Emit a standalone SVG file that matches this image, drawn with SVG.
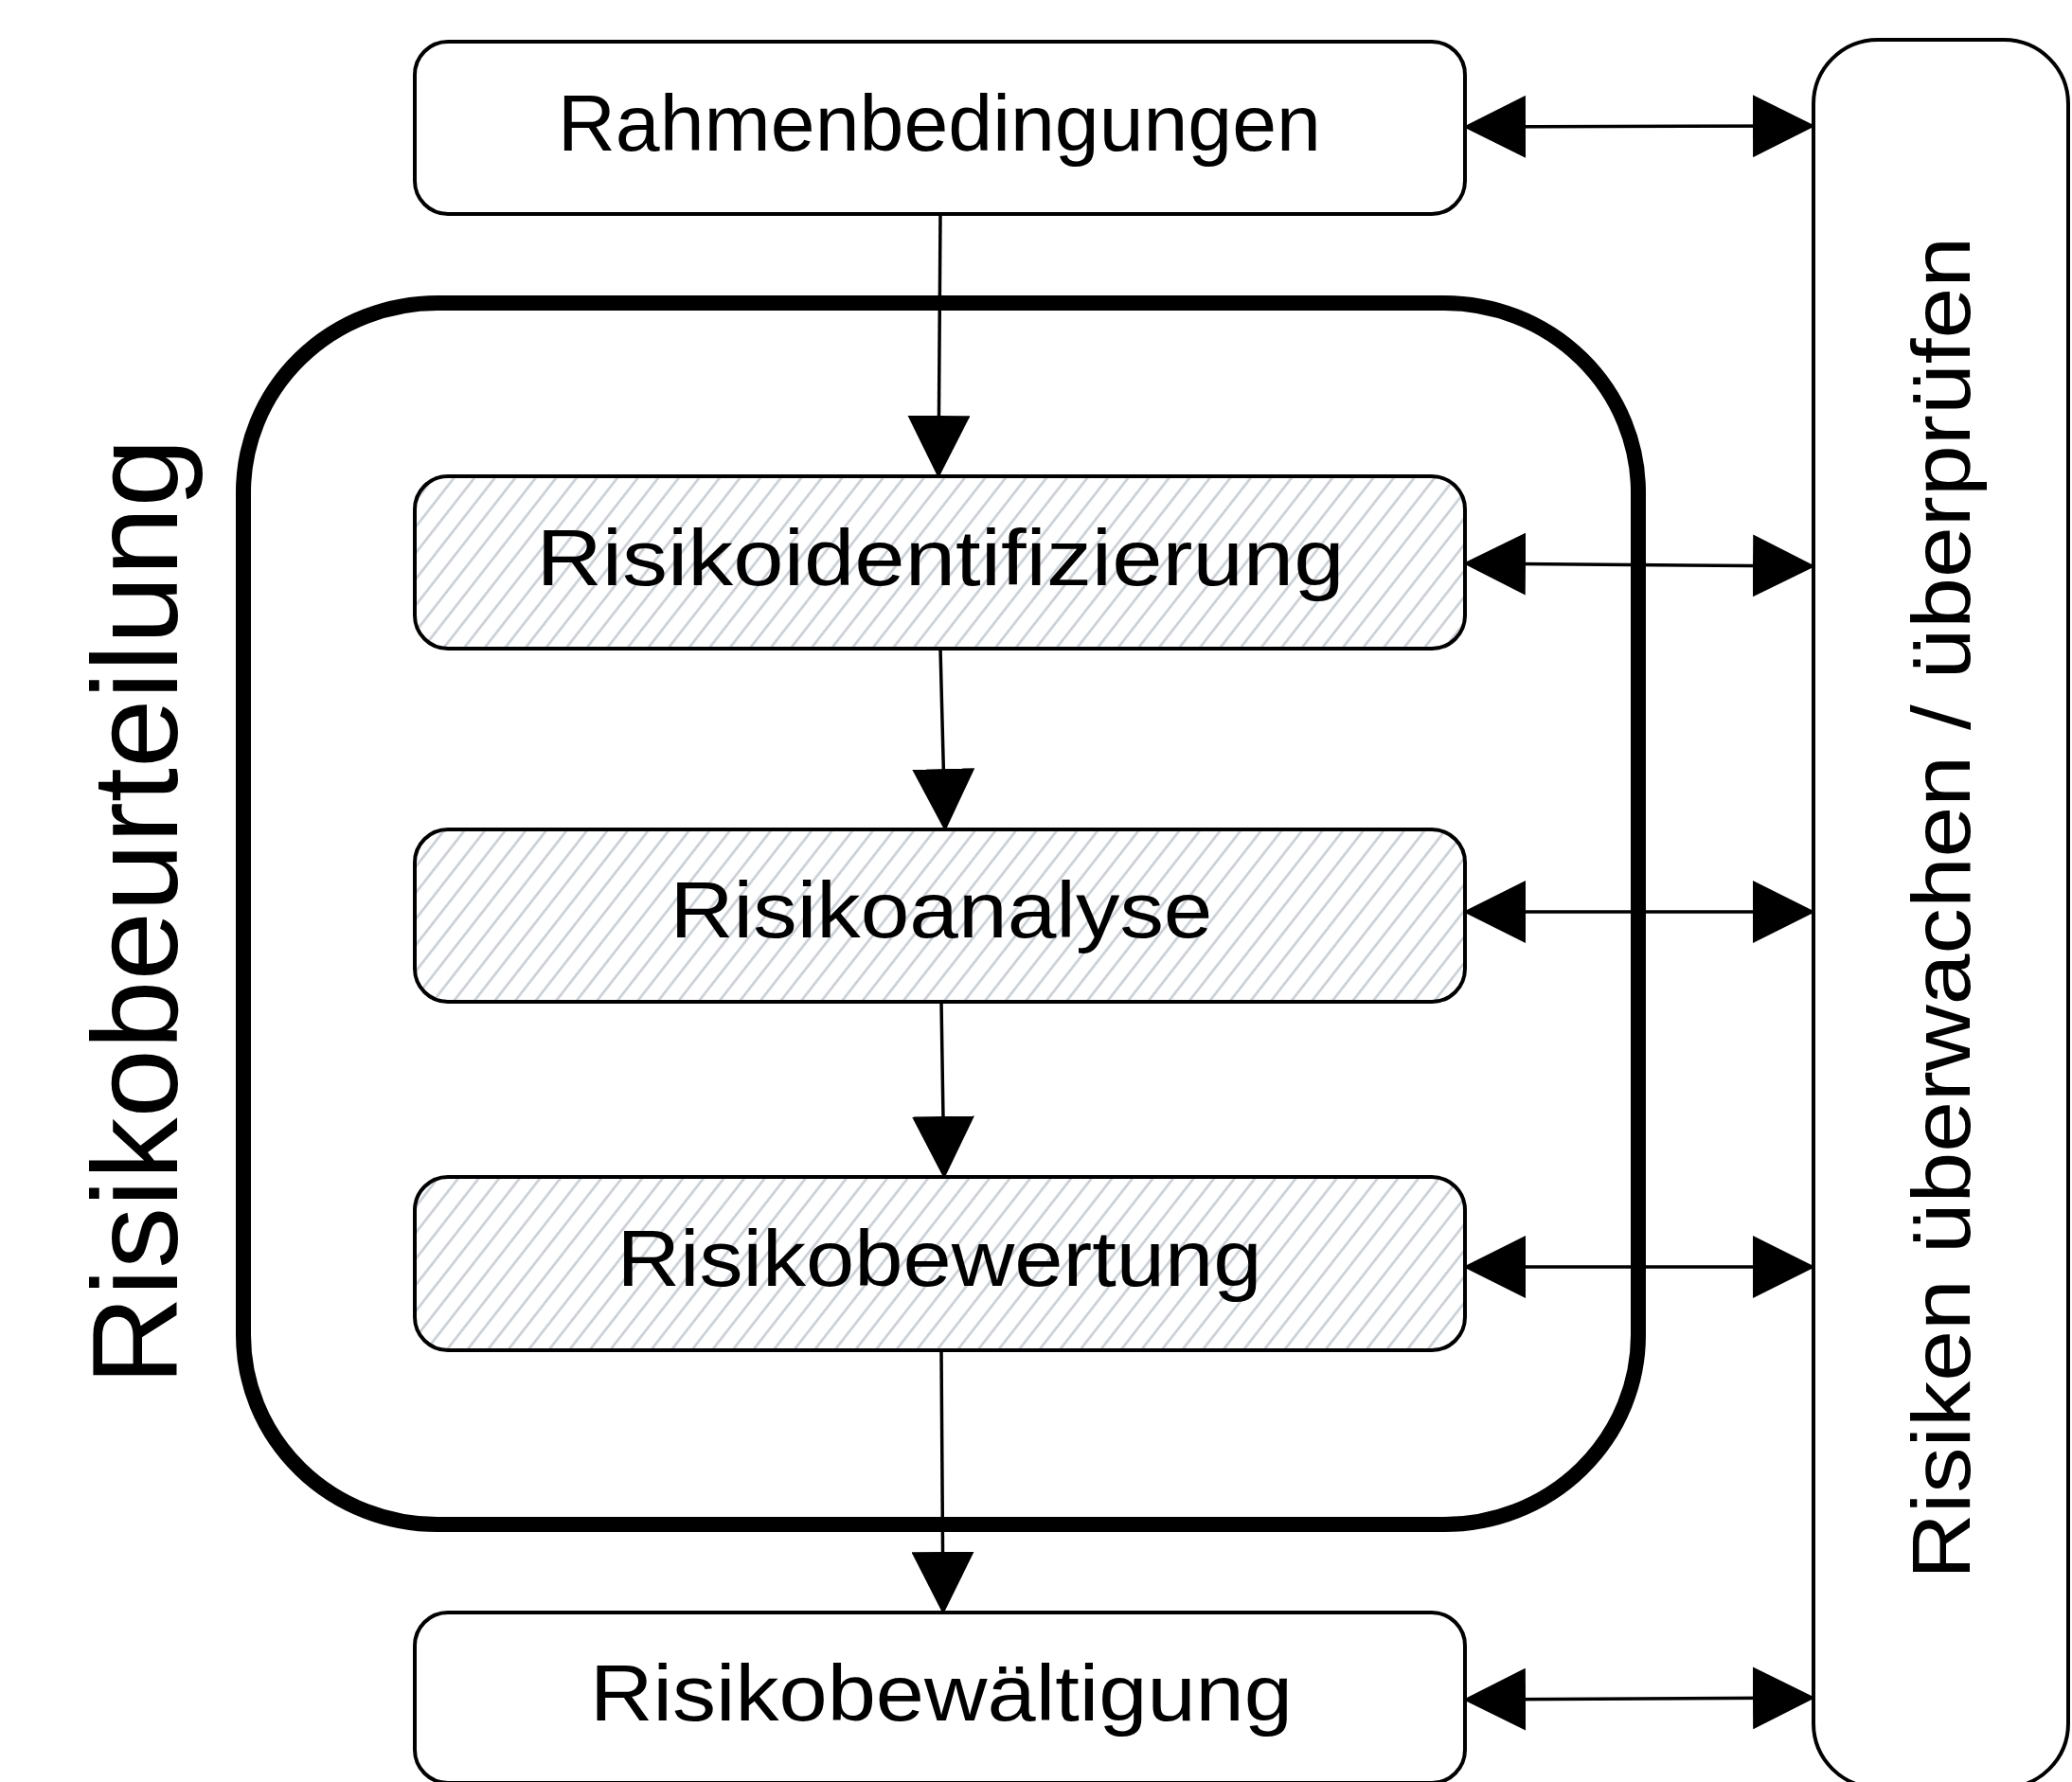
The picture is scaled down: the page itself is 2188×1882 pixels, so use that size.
<svg xmlns="http://www.w3.org/2000/svg" width="2188" height="1882" viewBox="0 0 2188 1882">
  <style>
    .box { fill: #ffffff; stroke: #000000; stroke-width: 4; }
    .hatched { fill: url(#hatch); stroke: #000000; stroke-width: 4; }
    .label { font-family: "Liberation Sans", Arial, sans-serif; font-size: 84px; fill: #000000; text-anchor: middle; }
    .conn { stroke: #000000; stroke-width: 3.5; fill: none; }
    .arrow { marker-end: url(#head); }
    .both { marker-start: url(#head); marker-end: url(#head); }
  </style>
  <defs>
    <pattern id="hatch" patternUnits="userSpaceOnUse" width="17" height="200" patternTransform="rotate(38)">
      <rect x="0" y="0" width="17" height="200" fill="#ffffff"/>
      <line x1="8.5" y1="0" x2="8.5" y2="200" stroke="#c4cbd3" stroke-width="2.4"/>
    </pattern>
    <marker id="head" markerUnits="userSpaceOnUse" viewBox="0 0 66 66" markerWidth="66" markerHeight="66" refX="64" refY="33" orient="auto-start-reverse">
      <path d="M0,0 L66,33 L0,66 Z" fill="#000000"/>
    </marker>
  </defs>
  <rect width="2188" height="1882" fill="#ffffff"/>

  <g id="risikobeurteilung">
    <rect x="257" y="320" width="1473" height="1290" rx="205" ry="200" fill="none" stroke="#000000" stroke-width="16"/>
    <text class="label" transform="translate(187,963) rotate(-90)" style="font-size:128px" textLength="1000" lengthAdjust="spacingAndGlyphs">Risikobeurteilung</text>
  </g>

  <g id="ueberwachen">
    <rect class="box" x="1915" y="42" width="269" height="1846" rx="68" ry="68"/>
    <text class="label" transform="translate(2080,959) rotate(-90)" style="font-size:88px" textLength="1418" lengthAdjust="spacingAndGlyphs">Risiken überwachen / überprüfen</text>
  </g>

  <g id="rahmenbedingungen">
    <rect class="box" x="438" y="44" width="1109" height="182" rx="35" ry="35"/>
    <text class="label" x="992" y="159" textLength="806" lengthAdjust="spacingAndGlyphs">Rahmenbedingungen</text>
  </g>

  <g id="risikoidentifizierung">
    <rect class="hatched" x="438" y="503" width="1109" height="182" rx="35" ry="35"/>
    <text class="label" x="993" y="618" textLength="853" lengthAdjust="spacingAndGlyphs">Risikoidentifizierung</text>
  </g>

  <g id="risikoanalyse">
    <rect class="hatched" x="438" y="876" width="1109" height="182" rx="35" ry="35"/>
    <text class="label" x="994" y="990" textLength="573" lengthAdjust="spacingAndGlyphs">Risikoanalyse</text>
  </g>

  <g id="risikobewertung">
    <rect class="hatched" x="438" y="1243" width="1109" height="183" rx="35" ry="35"/>
    <text class="label" x="992" y="1358" textLength="681" lengthAdjust="spacingAndGlyphs">Risikobewertung</text>
  </g>

  <g id="risikobewaeltigung">
    <rect class="box" x="438" y="1703" width="1109" height="180" rx="35" ry="35"/>
    <text class="label" x="994" y="1817" textLength="742" lengthAdjust="spacingAndGlyphs">Risikobewältigung</text>
  </g>

  <g id="connectors">
    <line class="conn arrow" x1="993" y1="226" x2="991" y2="503"/>
    <line class="conn arrow" x1="993" y1="685" x2="998" y2="876"/>
    <line class="conn arrow" x1="994" y1="1058" x2="997" y2="1243"/>
    <line class="conn arrow" x1="994" y1="1426" x2="996" y2="1703"/>
    <line class="conn both" x1="1547" y1="134" x2="1915" y2="133"/>
    <line class="conn both" x1="1547" y1="595" x2="1915" y2="598"/>
    <line class="conn both" x1="1547" y1="963" x2="1915" y2="963"/>
    <line class="conn both" x1="1547" y1="1338" x2="1915" y2="1338"/>
    <line class="conn both" x1="1547" y1="1795" x2="1915" y2="1793"/>
  </g>
</svg>
